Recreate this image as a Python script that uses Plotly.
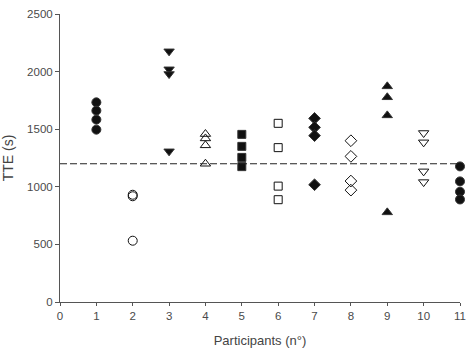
import plotly.graph_objects as go

participants = [1, 2, 3, 4, 5, 6, 7, 8, 9, 10, 11]
tte_values = [
    [1733, 1661, 1583, 1496],   # 1
    [931, 918, 532],            # 2
    [2176, 2020, 1979, 1308],   # 3
    [1458, 1420, 1360, 1200],   # 4
    [1455, 1351, 1255, 1175],   # 5
    [1551, 1340, 1006, 888],    # 6
    [1594, 1516, 1444, 1018],   # 7
    [1400, 1264, 1050, 971],    # 8
    [1872, 1777, 1620, 778],    # 9
    [1467, 1386, 1134, 1041],   # 10
    [1177, 1047, 957, 890],     # 11
]
symbols = ["circle", "circle-open", "triangle-down", "triangle-up-open", "square",
           "square-open", "diamond", "diamond-open", "triangle-up",
           "triangle-down-open", "circle"]
sizes = [9, 9, 9, 9, 8, 8, 9, 9, 9, 9, 9]
reference_tte = 1200
y_ticks = [0, 500, 1000, 1500, 2000, 2500]
x_ticks = list(range(0, 12))

fig = go.Figure()
for p, vals, sym, sz in zip(participants, tte_values, symbols, sizes):
    fig.add_trace(go.Scatter(
        x=[p] * len(vals), y=vals, mode="markers",
        marker=dict(symbol=sym, size=sz, color="#111111",
                    line=dict(color="#333333", width=1)),
        cliponaxis=False, showlegend=False))

fig.add_trace(go.Scatter(
    x=[0, 11], y=[reference_tte, reference_tte], mode="lines",
    line=dict(color="#222222", width=1, dash="7px,3px"),
    showlegend=False, cliponaxis=False))

axis_font = dict(family="Liberation Sans, Arial", size=11.5, color="#4a4a4a")
fig.update_layout(
    width=471, height=348,
    margin=dict(l=60, r=11, t=14, b=46),
    paper_bgcolor="white", plot_bgcolor="white",
    xaxis=dict(range=[0, 11], tickvals=x_ticks, showline=True, linecolor="#555555",
               linewidth=1, ticks="outside", ticklen=3, tickcolor="#555555",
               showgrid=False, zeroline=False, tickfont=axis_font, automargin=False,
               title=dict(text="Participants (n°)", standoff=15,
                          font=dict(family="Liberation Sans, Arial", size=13, color="#444444"))),
    yaxis=dict(range=[0, 2500], tickvals=y_ticks, showline=True, linecolor="#555555",
               linewidth=1, ticks="outside", ticklen=4, tickcolor="#555555",
               showgrid=False, zeroline=False, tickfont=axis_font, automargin=False,
               title=dict(text="TTE (s)", standoff=12,
                          font=dict(family="Liberation Sans, Arial", size=14, color="#444444"))),
)
fig.write_html("out.html")
